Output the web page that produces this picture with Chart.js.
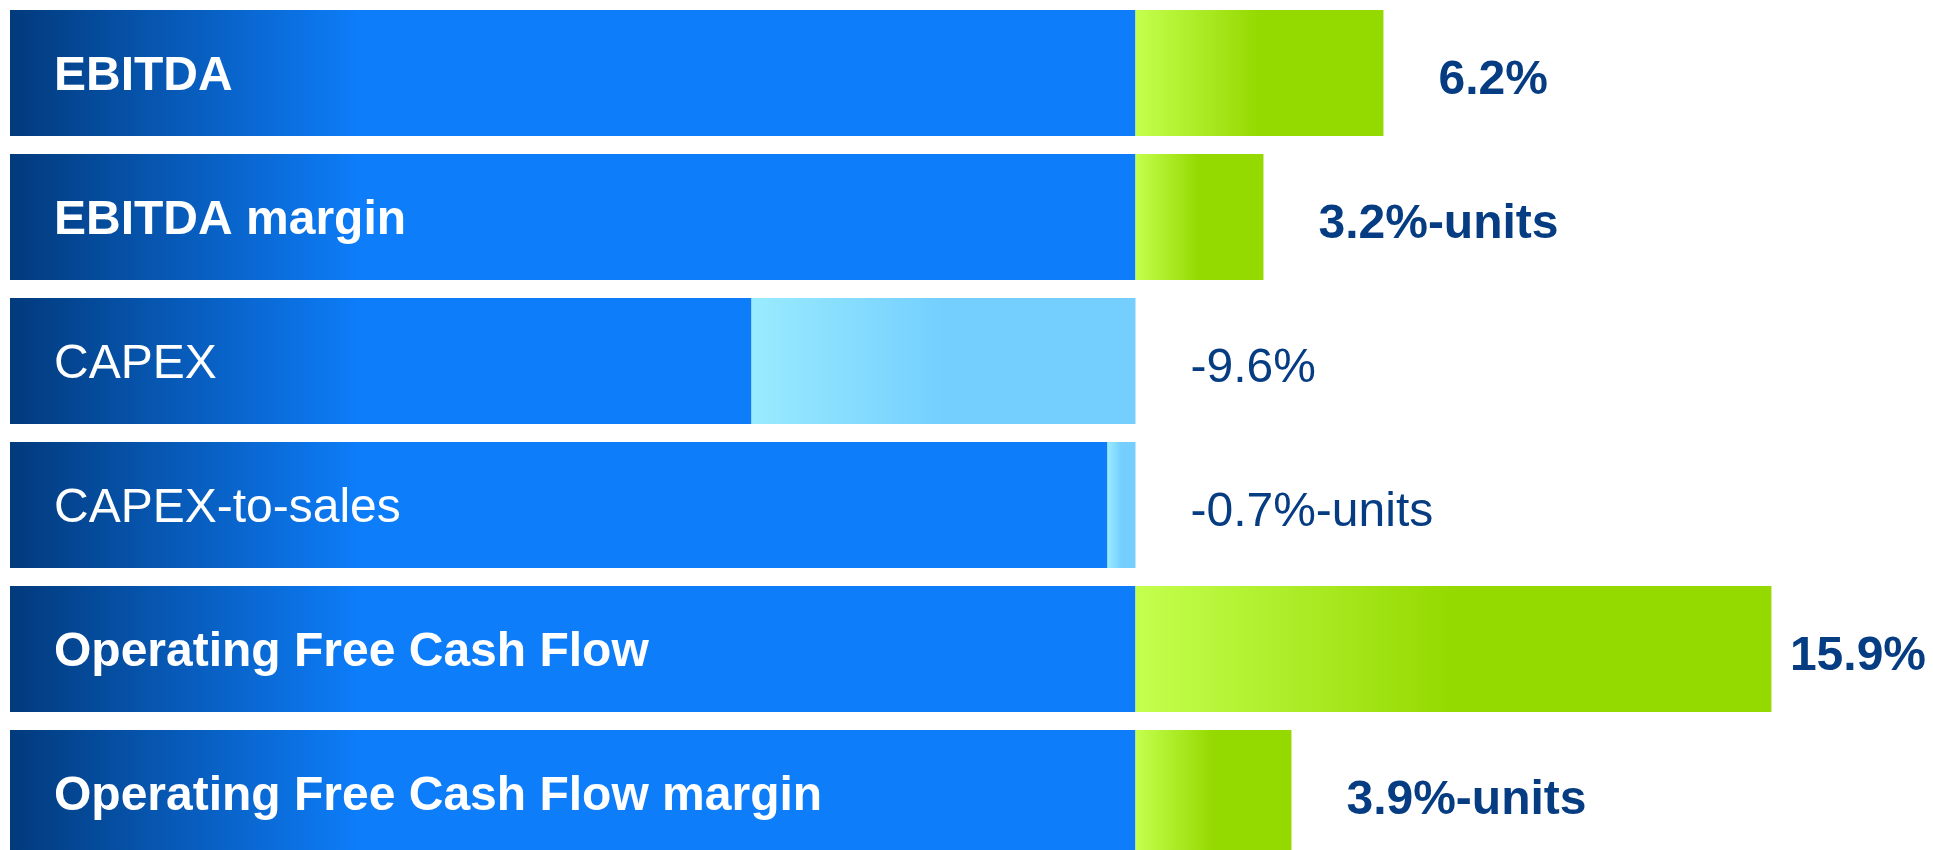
<!DOCTYPE html>
<html>
<head>
<meta charset="utf-8">
<script src="https://cdn.jsdelivr.net/npm/chart.js@4/dist/chart.umd.min.js"></script>
<style>
  html, body { margin: 0; padding: 0; background: #fff; overflow: hidden; }
  canvas { display: block; }
</style>
</head>
<body>
<canvas id="changeChart" width="1933" height="866"></canvas>
<script>
// year-on-year change per KPI
const kpis = ['EBITDA', 'EBITDA margin', 'CAPEX', 'CAPEX-to-sales', 'Operating Free Cash Flow', 'Operating Free Cash Flow margin']
const changes = [6.2, 3.2, -9.6, -0.7, 15.9, 3.9]
const units = ['%', '%-units', '%', '%-units', '%', '%-units']

// the value axis is hidden; the blue base bar runs from its minimum to zero
const axisMin = -28.14
const axisMax = 19.94

const FONT = "'Liberation Sans', Arial, sans-serif"
const TEXT_BLUE = '#063c82'

function baseFill(ctx) {
  const { chart } = ctx
  const area = chart.chartArea
  if (!area) return '#0d7df9'
  const g = chart.ctx.createLinearGradient(area.left, 0, area.left + 350, 0)
  g.addColorStop(0, '#023a7c')
  g.addColorStop(1, '#0d7df9')
  return g
}

function changeFill(ctx) {
  const { chart, dataIndex } = ctx
  const v = changes[dataIndex]
  const x = chart.scales.x
  if (!chart.chartArea || !x) return v >= 0 ? '#94d900' : '#74cfff'
  const x0 = x.getPixelForValue(0)
  const x1 = x.getPixelForValue(v)
  const from = Math.min(x0, x1)
  const to = from + Math.abs(x1 - x0) * 0.5
  const g = chart.ctx.createLinearGradient(from, 0, to, 0)
  if (v >= 0) {
    g.addColorStop(0, '#c4ff4e')
    g.addColorStop(1, '#94d900')
  } else {
    g.addColorStop(0, '#9aebff')
    g.addColorStop(1, '#74cfff')
  }
  return g
}

// KPI names inside the bars, change values to the right of them
const barText = {
  id: 'barText',
  afterDatasetsDraw(chart) {
    const { ctx, chartArea } = chart
    const x = chart.scales.x
    const meta = chart.getDatasetMeta(0)
    ctx.save()
    ctx.textBaseline = 'alphabetic'
    meta.data.forEach((bar, i) => {
      const v = changes[i]
      const weight = v >= 0 ? 'bold' : 'normal'
      ctx.font = `${weight} 48px ${FONT}`

      ctx.fillStyle = '#ffffff'
      ctx.textAlign = 'left'
      ctx.fillText(kpis[i], chartArea.left + 44, bar.y + 17)

      const label = v.toFixed(1) + units[i]
      const w = ctx.measureText(label).width
      let lx = x.getPixelForValue(Math.max(v, 0)) + 55
      lx = Math.min(lx, chart.width - w - 7)
      ctx.fillStyle = TEXT_BLUE
      ctx.fillText(label, lx, bar.y + 21)
    })
    ctx.restore()
  }
}

new Chart(document.getElementById('changeChart'), {
  type: 'bar',
  data: {
    labels: kpis,
    datasets: [
      {
        label: 'base',
        data: changes.map(v => [axisMin, Math.min(v, 0)]),
        backgroundColor: baseFill,
        grouped: false,
        order: 1
      },
      {
        label: 'change',
        data: changes.map(v => [0, v]),
        backgroundColor: changeFill,
        grouped: false,
        order: 0
      }
    ]
  },
  options: {
    indexAxis: 'y',
    responsive: false,
    animation: false,
    devicePixelRatio: 1,
    layout: { padding: { left: 10, right: 0, top: 1, bottom: 1 } },
    datasets: {
      bar: {
        categoryPercentage: 1,
        barPercentage: 0.875,
        borderWidth: 0,
        borderSkipped: false
      }
    },
    plugins: {
      legend: { display: false },
      tooltip: { enabled: false }
    },
    scales: {
      x: { display: false, min: axisMin, max: axisMax },
      y: { display: false }
    }
  },
  plugins: [barText]
})
</script>
</body>
</html>
